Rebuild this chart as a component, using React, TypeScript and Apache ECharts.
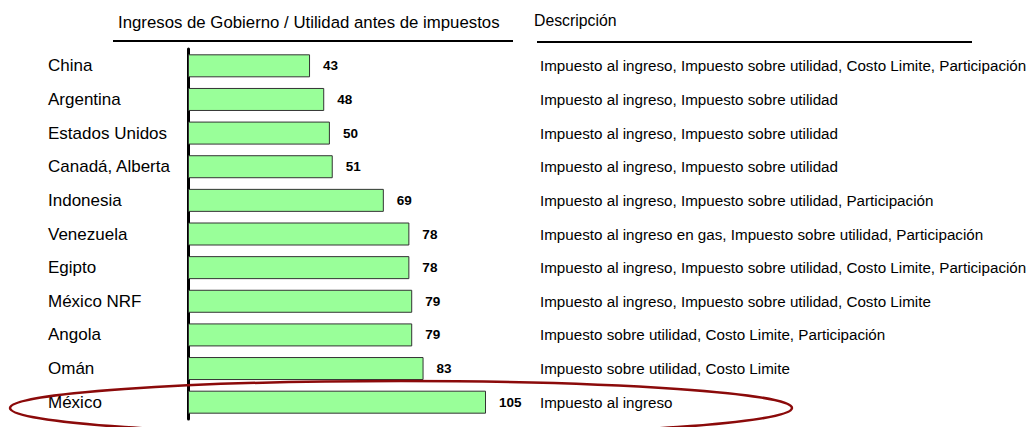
import React, { useEffect, useRef } from "react";
import * as echarts from "echarts";

const countries = [
  "China",
  "Argentina",
  "Estados Unidos",
  "Canadá, Alberta",
  "Indonesia",
  "Venezuela",
  "Egipto",
  "México NRF",
  "Angola",
  "Omán",
  "México",
];

const values = [43, 48, 50, 51, 69, 78, 78, 79, 79, 83, 105];

const descriptions = [
  "Impuesto al ingreso, Impuesto sobre utilidad, Costo Limite, Participación",
  "Impuesto al ingreso, Impuesto sobre utilidad",
  "Impuesto al ingreso, Impuesto sobre utilidad",
  "Impuesto al ingreso, Impuesto sobre utilidad",
  "Impuesto al ingreso, Impuesto sobre utilidad, Participación",
  "Impuesto al ingreso en gas, Impuesto sobre utilidad, Participación",
  "Impuesto al ingreso, Impuesto sobre utilidad, Costo Limite, Participación",
  "Impuesto al ingreso, Impuesto sobre utilidad, Costo Limite",
  "Impuesto sobre utilidad, Costo Limite, Participación",
  "Impuesto sobre utilidad, Costo Limite",
  "Impuesto al ingreso",
];

const chartTitle = "Ingresos de Gobierno / Utilidad antes de impuestos";
const descTitle = "Descripción";

const FONT = "'Liberation Sans', Arial, Helvetica, sans-serif";

export default function App() {
  const ref = useRef<HTMLDivElement>(null);

  useEffect(() => {
    document.body.style.margin = "0";
    if (!ref.current) return;
    const chart = echarts.init(ref.current, undefined, { renderer: "svg" });
    chart.setOption({
      animation: false,
      backgroundColor: "#ffffff",
      textStyle: { fontFamily: FONT },
      grid: { left: 188, top: 49, width: 298, height: 370, containLabel: false },
      xAxis: {
        type: "value",
        min: 0,
        max: 105,
        show: false,
        splitLine: { show: false },
      },
      yAxis: [
        {
          type: "category",
          data: countries,
          inverse: true,
          axisLine: { show: true, lineStyle: { color: "#000", width: 3 } },
          axisTick: { show: false },
          axisLabel: {
            align: "left",
            margin: 140,
            color: "#000",
            fontSize: 17,
            fontFamily: FONT,
            padding: [2, 0, 0, 0],
          },
        },
        {
          type: "category",
          data: descriptions,
          inverse: true,
          position: "right",
          axisLine: { show: false },
          axisTick: { show: false },
          axisLabel: {
            align: "left",
            margin: 54,
            color: "#000",
            fontSize: 15.2,
            fontFamily: FONT,
            padding: [3, 0, 0, 0],
          },
        },
      ],
      series: [
        {
          type: "bar",
          data: values,
          yAxisIndex: 0,
          barWidth: 23,
          itemStyle: { color: "#99ff99", borderColor: "#333", borderWidth: 1 },
          label: {
            show: true,
            position: "right",
            distance: 13,
            color: "#000",
            fontWeight: "bold",
            fontSize: 13.5,
            fontFamily: FONT,
          },
          z: 2,
        },
      ],
      graphic: [
        {
          type: "text",
          left: 118,
          top: 14,
          style: { text: chartTitle, fontSize: 16.8, fill: "#000", fontFamily: FONT },
        },
        {
          type: "line",
          shape: { x1: 113, y1: 41, x2: 513, y2: 41 },
          style: { stroke: "#000", lineWidth: 2 },
        },
        {
          type: "text",
          left: 534,
          top: 12,
          style: { text: descTitle, fontSize: 15.8, fill: "#000", fontFamily: FONT },
        },
        {
          type: "line",
          shape: { x1: 537, y1: 42, x2: 972, y2: 42 },
          style: { stroke: "#000", lineWidth: 2 },
        },
        {
          type: "ellipse",
          shape: { cx: 401, cy: 408, rx: 391, ry: 27 },
          style: { fill: "none", stroke: "#8b0a0a", lineWidth: 2.5 },
          z: 10,
        },
      ],
    });
    return () => chart.dispose();
  }, []);

  return <div ref={ref} style={{ width: 1031, height: 427 }} />;
}
